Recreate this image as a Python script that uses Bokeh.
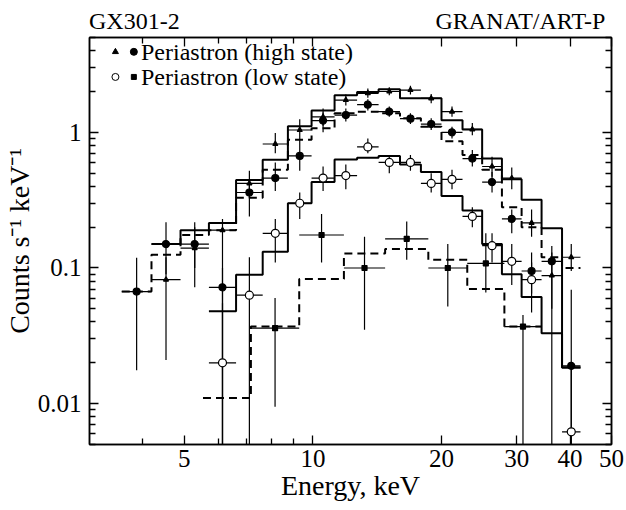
from bokeh.plotting import figure
from bokeh.models import FixedTicker, LogAxis, CustomJSTickFormatter, Range1d
from bokeh.embed import file_html
from bokeh.resources import INLINE
from bokeh.core.properties import value
import math

# ---------------- data ----------------
# energy bin edges, keV (fine binning)
EDGES = [3.57, 4.19, 4.90, 5.71, 6.61, 7.63, 8.74, 9.93, 11.24, 12.69, 14.25,
         15.99, 17.90, 20.0, 22.4, 24.9, 27.7, 30.8, 34.3, 38.3, 42.3]
# coarse bins of the low-state (square) spectrum
S_EDGES = [5.53, 7.16, 9.29, 11.82, 14.76, 18.63, 22.98, 28.07, 34.3]

# high state, triangles  (value, low end, high end of error bar); None = no point
T_VAL = [None, 0.082, 0.14, 0.19, 0.42, 0.82, 1.04, 1.30, 1.73, 1.94, 2.00,
         2.05, 1.78, 1.42, 1.05, 0.56, 0.46, 0.215, 0.088, 0.12]
T_LO = [None, 0.021, 0.072, 0.001, 0.33, 0.70, 0.85, 1.12, 1.58, 1.80, 1.88,
        1.90, 1.64, 1.30, 0.95, 0.47, 0.38, 0.17, 0.05, 0.095]
T_HI = [None, 0.12, 0.217, 0.23, 0.52, 0.99, 1.25, 1.50, 1.90, 2.10, 2.15,
        2.20, 1.92, 1.55, 1.17, 0.66, 0.55, 0.27, 0.13, 0.15]

# high state, filled circles
C_VAL = [0.067, 0.15, 0.15, 0.072, 0.36, 0.46, 0.67, 1.22, 1.34, 1.60, 1.42,
         1.26, 1.15, 1.00, 0.64, 0.43, 0.23, 0.095, 0.112, 0.019]
C_LO = [0.0176, 0.09, 0.10, 0.001, 0.24, 0.37, 0.52, 1.00, 1.20, 1.45, 1.30,
        1.15, 1.04, 0.90, 0.56, 0.36, 0.18, 0.065, 0.001, 0.001]
C_HI = [0.119, 0.217, 0.20, 0.10, 0.43, 0.60, 0.85, 1.40, 1.50, 1.75, 1.55,
        1.38, 1.27, 1.10, 0.74, 0.51, 0.27, 0.13, 0.145, 0.069]

# low state, open circles
O_VAL = [None, None, None, 0.020, 0.063, 0.18, 0.30, 0.46, 0.48, 0.78, 0.60,
         0.60, 0.42, 0.45, 0.24, 0.146, 0.112, 0.082, None, 0.0062]
O_LO = [None, None, None, 0.001, 0.001, 0.11, 0.23, 0.37, 0.38, 0.70, 0.50,
        0.52, 0.36, 0.38, 0.20, 0.11, 0.075, 0.047, None, 0.001]
O_HI = [None, None, None, 0.055, 0.12, 0.23, 0.36, 0.56, 0.58, 0.90, 0.68,
        0.68, 0.50, 0.53, 0.28, 0.18, 0.15, 0.11, None, 0.019]

# low state, squares (coarse bins)
S_VAL = [None, 0.036, 0.175, 0.10, 0.164, 0.10, 0.108, 0.037]
S_LO = [None, 0.0095, 0.11, 0.035, 0.115, 0.052, 0.066, 0.001]
S_HI = [None, 0.060, 0.25, 0.17, 0.22, 0.15, 0.18, 0.045]

# model histograms
M_T = [None, 0.15, 0.19, 0.215, 0.446, 0.627, 1.11, 1.45, 1.88, 1.98, 2.08,
       1.78, 1.78, 1.23, 1.05, 0.64, 0.45, 0.318, 0.196, 0.0185]
M_C = [0.067, 0.125, 0.175, 0.19, 0.33, 0.53, 0.88, 1.07, 1.38, 1.42, 1.38,
       1.27, 1.10, 0.86, 0.68, 0.53, 0.28, 0.20, 0.12, 0.10]
M_O = [None, None, None, 0.048, 0.089, 0.132, 0.30, 0.43, 0.63, 0.65, 0.67,
       0.58, 0.51, 0.34, 0.265, 0.15, 0.09, 0.061, 0.033, 0.0185]
M_S = [0.011, 0.037, 0.083, 0.128, 0.138, 0.115, 0.070, 0.037]

X_TICKS = [5, 10, 20, 30, 40, 50]
X_MINOR = [4, 6, 7, 8, 9]
Y_TICKS = [0.01, 0.1, 1]
Y_MINOR = [0.005, 0.006, 0.007, 0.008, 0.009, 0.02, 0.03, 0.04, 0.05, 0.06,
           0.07, 0.08, 0.09, 0.2, 0.3, 0.4, 0.5, 0.6, 0.7, 0.8, 0.9, 2, 3, 4, 5]

TITLES = ["GX301-2", "GRANAT/ART-P"]
TITLE_AT = [3.82, 30.6]          # energy under the centre of each header text
LEG_LABELS = ["Periastron (high state)", "Periastron (low state)"]

FONT = "Liberation Serif"

p = figure(width=626, height=510, x_axis_type="log", y_axis_type="log",
           x_range=Range1d(3, 50), y_range=Range1d(0.005, 5),
           output_backend="svg", toolbar_location=None,
           min_border_left=86, min_border_right=15, min_border_top=37,
           min_border_bottom=66)
p.xgrid.visible = False
p.ygrid.visible = False
p.outline_line_color = "black"
p.outline_line_width = 1.5
p.background_fill_color = "white"
p.border_fill_color = "white"

fmt = CustomJSTickFormatter(code="return tick.toString()")
for ax in (p.xaxis[0], p.yaxis[0]):
    ax.formatter = fmt
    ax.major_tick_in = 9
    ax.major_tick_out = 0
    ax.minor_tick_in = 6
    ax.minor_tick_out = 0
    ax.axis_line_width = 1.5
    ax.major_tick_line_width = 1.3
    ax.minor_tick_line_width = 1.3
    ax.major_label_text_font = FONT
    ax.major_label_text_font_size = "25px"
    ax.major_label_text_color = "black"
    ax.axis_label_text_font = FONT
    ax.axis_label_text_font_size = "28px"
    ax.axis_label_text_font_style = "normal"
    ax.axis_label_text_color = "black"
p.xaxis[0].ticker = FixedTicker(ticks=X_TICKS, minor_ticks=X_MINOR)
p.yaxis[0].ticker = FixedTicker(ticks=Y_TICKS, minor_ticks=Y_MINOR)
p.xaxis[0].axis_label = "Energy, keV"
p.yaxis[0].axis_label = "Counts s\u207b\u00b9 keV\u207b\u00b9"
p.xaxis[0].major_label_standoff = 5
p.yaxis[0].major_label_standoff = 8
p.xaxis[0].axis_label_standoff = 0
p.yaxis[0].axis_label_standoff = 0

empty = CustomJSTickFormatter(code="return ''")
top = LogAxis(ticker=FixedTicker(ticks=X_TICKS, minor_ticks=X_MINOR), formatter=empty,
              major_tick_in=9, major_tick_out=0, minor_tick_in=6, minor_tick_out=0,
              major_label_text_font_size="0px", major_label_standoff=0,
              axis_line_width=1.5, major_tick_line_width=1.3, minor_tick_line_width=1.3)
right = LogAxis(ticker=FixedTicker(ticks=Y_TICKS, minor_ticks=Y_MINOR), formatter=empty,
                major_tick_in=9, major_tick_out=0, minor_tick_in=6, minor_tick_out=0,
                major_label_text_font_size="0px", major_label_standoff=0,
                axis_line_width=1.5, major_tick_line_width=1.3, minor_tick_line_width=1.3)
p.add_layout(top, "above")
p.add_layout(right, "right")

# header texts above the frame, carried by a bare axis (no line, no ticks)
head = LogAxis(ticker=FixedTicker(ticks=TITLE_AT, minor_ticks=[]),
               formatter=CustomJSTickFormatter(args=dict(names=TITLES),
                                               code="return tick < 10 ? names[0] : names[1]"),
               axis_line_color=None, major_tick_line_color=None, minor_tick_line_color=None,
               major_tick_in=0, major_tick_out=0, minor_tick_in=0, minor_tick_out=0,
               major_label_standoff=4, major_label_text_font=FONT,
               major_label_text_font_size="24px", major_label_text_color="black")
p.add_layout(head, "above")


def step_line(edges, vals, dash=None, width=2.0):
    xs, ys = [], []
    for i, v in enumerate(vals):
        if v is None:
            continue
        xs.append(edges[i]); ys.append(v)
        xs.append(edges[i + 1]); ys.append(v)
    kw = dict(line_color="black", line_width=width)
    if dash:
        kw["line_dash"] = dash
    p.line(xs, ys, **kw)


def points(edges, vals, lo, hi, marker, size, fill, lw=1.2):
    cx, cy, x0, x1, ylo, yhi = [], [], [], [], [], []
    for i, v in enumerate(vals):
        if v is None:
            continue
        a, b = edges[i], edges[i + 1]
        cx.append(math.sqrt(a * b)); cy.append(v)
        x0.append(a); x1.append(b); ylo.append(lo[i]); yhi.append(hi[i])
    p.segment(x0=x0, y0=cy, x1=x1, y1=cy, line_color="black", line_width=lw)
    p.segment(x0=cx, y0=ylo, x1=cx, y1=yhi, line_color="black", line_width=lw)
    p.scatter(cx, cy, marker=marker, size=size, fill_color=fill,
              line_color="black", line_width=1.2)


step_line(EDGES, M_T)
step_line(EDGES, M_C, dash="8 5")
step_line(EDGES, M_O)
step_line(S_EDGES, M_S, dash="8 5")

points(EDGES, T_VAL, T_LO, T_HI, "triangle", 5, "black")
points(EDGES, C_VAL, C_LO, C_HI, "circle", 7, "black")
points(EDGES, O_VAL, O_LO, O_HI, "circle", 8, "white")
points(S_EDGES, S_VAL, S_LO, S_HI, "square", 5, "black")

# in-plot key, drawn by hand as in the original
p.scatter([3.45], [3.92], marker="triangle", size=6, color="black")
p.scatter([3.81], [3.92], marker="circle", size=7, color="black")
p.scatter([3.45], [2.56], marker="circle", size=7, fill_color="white", line_color="black")
p.scatter([3.81], [2.56], marker="square", size=5, color="black")
p.text([3.96, 3.96], [3.92, 2.56], text=LEG_LABELS, text_font=value(FONT),
       text_font_size="24px", text_baseline="middle", text_color="black")

open("out.html", "w").write(file_html(p, INLINE))
